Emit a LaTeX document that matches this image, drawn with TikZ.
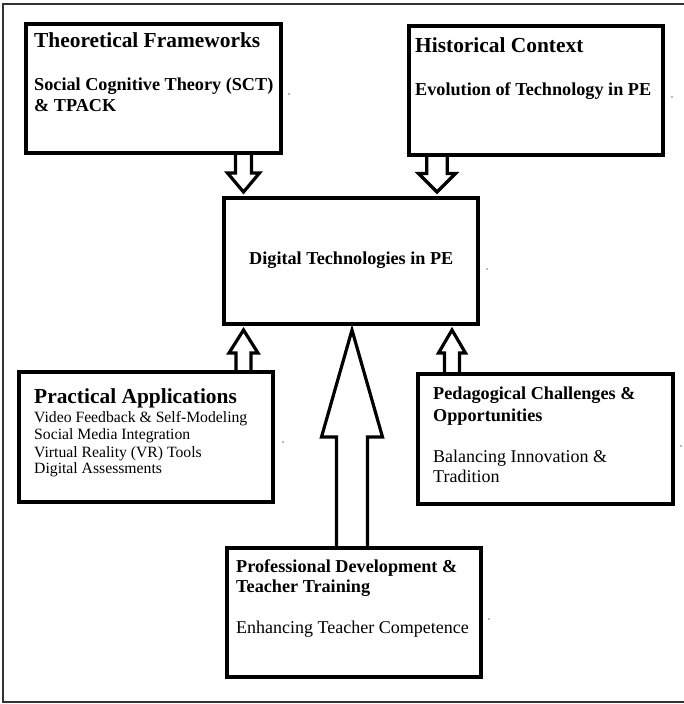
\documentclass[tikz,border=0pt]{standalone}
\usepackage{fontspec}
\setmainfont{Liberation Serif}
\usetikzlibrary{calc}
\pgfdeclarelayer{bg}
\pgfsetlayers{bg,main}

\tikzset{
  box/.style={draw, line width=4, inner sep=0, outer sep=0},
  ttl/.style={inner sep=0, anchor=base west, font=\fontsize{21.4}{24}\selectfont\bfseries},
  subttl/.style={inner sep=0, anchor=base west, font=\fontsize{18.2}{20}\selectfont\bfseries},
  bodytxt/.style={inner sep=0, anchor=base west, font=\fontsize{18}{20}\selectfont},
  listtxt/.style={inner sep=0, anchor=base west, font=\fontsize{15.7}{17}\selectfont},
  blockarrow/.style={draw, fill=white, line width=3.2, line join=miter},
  outerframe/.style={line width=2, draw=black!80},
  straydot/.style={fill=black!55},
}

% hollow vertical block arrow: base point, tip point, half shaft width,
% half head width, signed head length (towards the base)
\newcommand\blockarr[5]{%
  \begin{pgfonlayer}{bg}
    \draw[blockarrow] ($#1+(-#3,0)$) -- ($#2+(-#3,#5)$) -- ($#2+(-#4,#5)$)
      -- #2 -- ($#2+(#4,#5)$) -- ($#2+(#3,#5)$) -- ($#1+(#3,0)$);
  \end{pgfonlayer}}

\begin{document}
\begin{tikzpicture}[x=1pt, y=-1pt]
  \useasboundingbox (0,0) rectangle (684,704);

  % page frame
  \draw[outerframe] (684,4) -- (3,4) -- (3,702) -- (684,702);

  % boxes
  \node[box, minimum width=255, minimum height=129] (theo)    at (153.5,88.5) {};
  \node[box, minimum width=254, minimum height=129] (hist)    at (536,90.5)   {};
  \node[box, minimum width=254, minimum height=126] (digital) at (351,261)    {};
  \node[box, minimum width=254, minimum height=130] (prac)    at (146,437)    {};
  \node[box, minimum width=255, minimum height=130] (peda)    at (545.5,439)  {};
  \node[box, minimum width=254, minimum height=129] (prof)    at (354,612.5)  {};

  % texts
  \node[ttl]    (theoT)  at (34,47)  {Theoretical Frameworks};
  \node[subttl] (theoS1) at (34,90)  {Social Cognitive Theory (SCT)};
  \node[subttl] (theoS2) at (34,111) {\& TPACK};

  \node[ttl]    (histT)  at (415,52) {Historical Context};
  \node[subttl] (histS)  at (415,95) {Evolution of Technology in PE};

  \node[subttl] (digT)   at (249,264) {Digital Technologies in PE};

  \node[ttl]     (pracT)  at (34,403) {Practical Applications};
  \node[listtxt] (pracL1) at (34,422) {Video Feedback \& Self-Modeling};
  \node[listtxt] (pracL2) at (34,439) {Social Media Integration};
  \node[listtxt] (pracL3) at (34,457) {Virtual Reality (VR) Tools};
  \node[listtxt] (pracL4) at (34,473) {Digital Assessments};

  \node[subttl]  (pedaT1) at (433,399) {Pedagogical Challenges \&};
  \node[subttl]  (pedaT2) at (433,421) {Opportunities};
  \node[bodytxt] (pedaB1) at (433,462) {Balancing Innovation \&};
  \node[bodytxt] (pedaB2) at (433,482) {Tradition};

  \node[subttl]  (profT1) at (236,572) {Professional Development \&};
  \node[subttl]  (profT2) at (236,592) {Teacher Training};
  \node[bodytxt] (profB)  at (236,633) {Enhancing Teacher Competence};

  % stray paragraph dots
  \fill[straydot] (289,94)  circle (0.8);
  \fill[straydot] (672,97)  circle (0.8);
  \fill[straydot] (487,269) circle (0.8);
  \fill[straydot] (283,442) circle (0.8);
  \fill[straydot] (681,446) circle (0.8);
  \fill[straydot] (489,619) circle (0.8);

  % arrow axes
  \coordinate (x1) at (243.5,0);
  \coordinate (x2) at (437,0);
  \coordinate (x3) at (243.5,0);
  \coordinate (x4) at (452,0);
  \coordinate (x5) at (352,0);

  \coordinate (a1b) at (theo.south -| x1);
  \coordinate (a1t) at ($(digital.north -| x1)+(0,-6)$);
  \coordinate (a2b) at (hist.south -| x2);
  \coordinate (a2t) at ($(digital.north -| x2)+(0,-6)$);
  \coordinate (a3b) at (prac.north -| x3);
  \coordinate (a3t) at ($(digital.south -| x3)+(0,6)$);
  \coordinate (a4b) at (peda.north -| x4);
  \coordinate (a4t) at ($(digital.south -| x4)+(0,6)$);
  \coordinate (a5b) at (prof.north -| x5);
  \coordinate (a5t) at ($(digital.south -| x5)+(0,6)$);

  \blockarr{(a1b)}{(a1t)}{8}{16}{-19}
  \blockarr{(a2b)}{(a2t)}{10.2}{18.5}{-18.5}
  \blockarr{(a3b)}{(a3t)}{7.5}{14.5}{23}
  \blockarr{(a4b)}{(a4t)}{7.5}{13.5}{23}
  \blockarr{(a5b)}{(a5t)}{15.5}{30.5}{107}
\end{tikzpicture}
\end{document}
